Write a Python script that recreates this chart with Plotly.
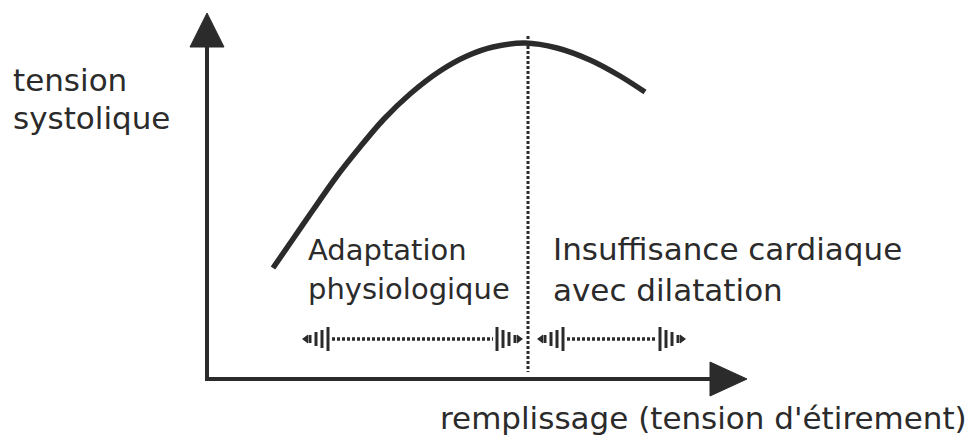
"""
Frank-Starling type diagram: systolic tension vs. filling, redrawn with Plotly.
Coordinates are in a plain "diagram unit" space with the origin at the axes corner.
"""

from __future__ import annotations

import plotly.graph_objects as go

# ── Data ──────────────────────────────────────────────────────────────────────

# Curve (filling → systolic tension)
filling = [66, 86, 106, 130, 153, 176, 203, 233, 260, 286, 318, 350, 383, 413, 438]
tension = [111, 140, 169, 203, 232, 259, 285, 308, 323, 332, 336, 331, 319, 303, 287]

# Optimum (top of the curve), where the dotted separator is drawn
optimum_x = 321
optimum_top = 343
optimum_bottom = 7

# Axis extents
x_axis_end = 540
y_axis_end = 366

# The two "wave" arrows under the labels: left tip, right tip, level
wave_left = [98, 333]
wave_right = [313, 476]
wave_level = 40

# Text labels
y_label = ["tension", "systolique"]
x_label = "remplissage (tension d'étirement)"
zone_left = ["Adaptation", "physiologique"]
zone_right = ["Insuffisance cardiaque", "avec dilatation"]

# ── Style ─────────────────────────────────────────────────────────────────────

INK = "#2b2b2b"
FONT = "DejaVu Sans"

# wave glyph: bar offsets from each tip (inward) and their half-heights
BAR_OFFSET = [5, 11, 17, 23]
BAR_HALF = [4, 7, 9, 12]

fig = go.Figure()

# Curve
fig.add_trace(
    go.Scatter(
        x=filling,
        y=tension,
        mode="lines",
        line={"color": INK, "width": 5.5, "shape": "spline", "smoothing": 0.8},
        hoverinfo="skip",
    )
)

# Dotted separator at the optimum
fig.add_trace(
    go.Scatter(
        x=[optimum_x, optimum_x],
        y=[optimum_top, optimum_bottom],
        mode="lines",
        line={"color": INK, "width": 3, "dash": "3px,2px"},
        hoverinfo="skip",
    )
)

# Axes lines
fig.add_trace(
    go.Scatter(
        x=[0, 0, x_axis_end - 30],
        y=[y_axis_end - 30, 0, 0],
        mode="lines",
        line={"color": INK, "width": 4},
        hoverinfo="skip",
    )
)

# Axis arrowheads
fig.add_shape(
    type="path",
    path=f"M -17 {y_axis_end - 34} L 17 {y_axis_end - 34} L 0 {y_axis_end} Z",
    fillcolor=INK,
    line={"color": INK, "width": 1},
)
fig.add_shape(
    type="path",
    path=f"M {x_axis_end - 37} -17 L {x_axis_end - 37} 17 L {x_axis_end} 0 Z",
    fillcolor=INK,
    line={"color": INK, "width": 1},
)

# Wave arrows
for left, right in zip(wave_left, wave_right):
    inner_l = left + BAR_OFFSET[-1] + 4
    inner_r = right - BAR_OFFSET[-1] - 4
    # dotted shaft
    fig.add_trace(
        go.Scatter(
            x=[inner_l, inner_r],
            y=[wave_level, wave_level],
            mode="lines",
            line={"color": INK, "width": 3.5, "dash": "3px,2px"},
            hoverinfo="skip",
        )
    )
    # bars growing towards the shaft
    bx, by = [], []
    for off, half in zip(BAR_OFFSET, BAR_HALF):
        for xb in (left + off, right - off):
            bx += [xb, xb, None]
            by += [wave_level - half, wave_level + half, None]
    fig.add_trace(
        go.Scatter(
            x=bx,
            y=by,
            mode="lines",
            line={"color": INK, "width": 3},
            hoverinfo="skip",
        )
    )
    # little tips
    fig.add_trace(
        go.Scatter(
            x=[left + 1, right - 1],
            y=[wave_level, wave_level],
            mode="markers",
            marker={
                "color": INK,
                "size": 8,
                "symbol": ["triangle-left", "triangle-right"],
            },
            hoverinfo="skip",
        )
    )


def label(text, x, y, size=31):
    fig.add_annotation(
        x=x,
        y=y,
        xref="x",
        yref="y",
        text=text,
        showarrow=False,
        xanchor="left",
        yanchor="middle",
        font={"family": FONT, "size": size, "color": INK},
    )


label(y_label[0], -196, 299)
label(y_label[1], -196, 261)
label(zone_left[0], 99, 129, 29)
label(zone_left[1], 99, 90, 29)
label(zone_right[0], 344, 130)
label(zone_right[1], 344, 89)
label(x_label, 231, -39)

fig.update_layout(
    width=976,
    height=441,
    margin={"t": 0, "b": 0, "l": 0, "r": 0},
    paper_bgcolor="white",
    plot_bgcolor="white",
    showlegend=False,
    xaxis={"range": [-207, 769], "visible": False, "fixedrange": True},
    yaxis={"range": [-62, 379], "visible": False, "fixedrange": True},
)

fig.write_html(
    "out.html",
    config={"displayModeBar": False},
    post_script="document.body.style.margin = '0';",
)
